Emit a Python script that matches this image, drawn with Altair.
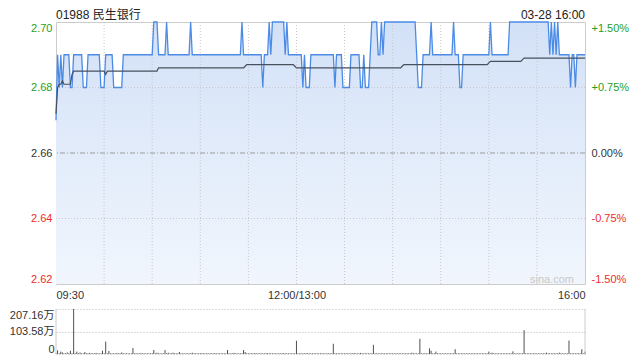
import altair as alt
import pandas as pd

title_text = "01988 民生银行"
stamp_text = "03-28 16:00"
watermark = "sina.com"
prev_close = 2.66

# price: minute index (since 09:30, lunch removed) where a level starts, and that level
price_start = [0, 1, 2, 3, 4, 5, 9, 11, 17, 20,
               28, 31, 36, 42, 61, 64, 69, 70, 84, 85,
               116, 117, 129, 130, 133, 134, 135, 143, 144, 145,
               154, 155, 156, 159, 174, 175, 179, 184, 190, 192,
               193, 196, 197, 201, 203, 204, 205, 225, 226, 229,
               234, 235, 248, 249, 252, 254, 271, 272, 283, 308,
               309, 310, 311, 312, 313, 314, 321, 322, 324, 325]
price_level = [2.67, 2.69, 2.68, 2.69, 2.68, 2.69, 2.68, 2.69, 2.68, 2.69,
               2.68, 2.69, 2.68, 2.69, 2.70, 2.69, 2.70, 2.69, 2.70, 2.69,
               2.70, 2.69, 2.68, 2.69, 2.70, 2.69, 2.70, 2.69, 2.70, 2.69,
               2.68, 2.69, 2.68, 2.69, 2.68, 2.69, 2.68, 2.69, 2.68, 2.69,
               2.68, 2.69, 2.70, 2.69, 2.70, 2.69, 2.70, 2.69, 2.68, 2.69,
               2.70, 2.69, 2.70, 2.69, 2.68, 2.69, 2.70, 2.69, 2.70, 2.69,
               2.70, 2.69, 2.70, 2.69, 2.70, 2.69, 2.68, 2.69, 2.68, 2.69]

# average price line
avg_start = [0, 1, 2, 4, 5, 10, 11, 31, 32, 64,
             118, 119, 149, 150, 216, 217, 270, 271, 291, 292]
avg_level = [2.672, 2.680, 2.681, 2.682, 2.681, 2.684, 2.685, 2.684, 2.685, 2.686,
             2.6865, 2.687, 2.6865, 2.686, 2.6865, 2.687, 2.6875, 2.688, 2.6885, 2.689]

# volume (万) at minutes with readable bars; other minutes about vol_other
vol_minute = [1, 3, 4, 7, 9, 11, 13, 15, 18, 21,
              25, 29, 31, 33, 38, 41, 48, 53, 61, 63,
              68, 70, 73, 77, 85, 90, 99, 107, 111, 117,
              118, 124, 132, 142, 150, 157, 173, 186, 190, 198,
              222, 227, 233, 234, 237, 249, 270, 272, 285, 292,
              306, 314, 320, 328, 330]
vol_value = [17, 11, 7, 7, 15, 207.16, 11, 7, 9, 5,
             5, 15, 57, 14, 4, 7, 28, 4, 18, 6,
             18, 6, 6, 9, 6, 4, 4, 18, 5, 18,
             9, 4, 4, 4, 61, 4, 47, 4, 5, 42,
             6, 70, 26, 15, 11, 22, 11, 6, 12, 110,
             6, 6, 62, 22, 11]
vol_other = 3.0

x_ticks = [0, 150, 330]
x_labels = ["09:30", "12:00/13:00", "16:00"]
grid_minutes = [30, 60, 90, 120, 150, 180, 210, 240, 270, 300]
y_ticks = [2.62, 2.64, 2.66, 2.68, 2.70]
pct_labels = ["-1.50%", "-0.75%", "0.00%", "+0.75%", "+1.50%"]
vol_ticks = [0, 103.58, 207.16]
vol_labels = ["0", "103.58万", "207.16万"]

N = 331


def expand(starts, levels, n):
    out = []
    for i, (s, lv) in enumerate(zip(starts, levels)):
        e = starts[i + 1] if i + 1 < len(starts) else n
        out.extend([lv] * (e - s))
    return out


price = expand(price_start, price_level, N)
avg = expand(avg_start, avg_level, N)
vol_map = dict(zip(vol_minute, vol_value))
vol = [vol_map.get(m, vol_other) for m in range(N)]

df = pd.DataFrame({"minute": list(range(N)), "price": price, "avg": avg})
vdf = pd.DataFrame({"minute": list(range(N)), "vol": vol})

W, H, VH = 529, 262, 45
GREEN, RED, DARK = "#1f9f1f", "#ee2b2b", "#333333"
FONT = "Liberation Sans, Arial, 'Noto Sans CJK SC', sans-serif"


def map_expr(ticks, labels):
    expr = "''"
    for t, l in zip(ticks, labels):
        expr = f"(abs(datum.value - {t}) < 0.001 ? '{l}' : {expr})"
    return expr


color_expr = (f"datum.value > {prev_close + 0.001} ? '{GREEN}' : "
              f"datum.value < {prev_close - 0.001} ? '{RED}' : '{DARK}'")

xscale = alt.Scale(domain=[0, 330], nice=False, zero=False)
yscale = alt.Scale(domain=[2.62, 2.70], nice=False, zero=False)

x_axis = alt.Axis(values=x_ticks, labelExpr=map_expr(x_ticks, x_labels), grid=False,
                  ticks=False, domain=False, labelFlush=True, labelPadding=5,
                  title=None, labelColor=DARK)
y_left = alt.Axis(values=y_ticks, format=".2f", grid=False, ticks=False, domain=False,
                  labelFlush=True, labelPadding=4, minExtent=47, maxExtent=47,
                  title=None, labelColor={"expr": color_expr})
y_right = alt.Axis(values=y_ticks, orient="right", labelExpr=map_expr(y_ticks, pct_labels),
                   grid=False, ticks=False, domain=False, labelFlush=True, labelPadding=6,
                   title=None, labelColor={"expr": color_expr})

X = alt.X("minute:Q", scale=xscale, axis=x_axis)
Y = alt.Y("price:Q", scale=yscale, axis=y_left)

grad = alt.Gradient(gradient="linear",
                    stops=[alt.GradientStop(color="#d3e1f7", offset=0),
                           alt.GradientStop(color="#f1f6fd", offset=1)],
                    x1=0, x2=0, y1=0, y2=1)

area = alt.Chart(df).mark_area(color=grad).encode(x=X, y=Y, y2=alt.datum(2.62))
vgrid = alt.Chart(pd.DataFrame({"minute": grid_minutes})).mark_rule(
    color="#c8c8c8", strokeDash=[1, 2], strokeWidth=1).encode(x=X)
hgrid = alt.Chart(pd.DataFrame({"price": [2.68, 2.64]})).mark_rule(
    color="#c8c8c8", strokeDash=[1, 2], strokeWidth=1).encode(y=Y)
mid = alt.Chart(pd.DataFrame({"price": [prev_close]})).mark_rule(
    color="#9a9a9a", strokeDash=[5, 2, 1, 2], strokeWidth=1).encode(y=Y)
line = alt.Chart(df).mark_line(color="#4b8be6", strokeWidth=1.3).encode(x=X, y=Y)
avgl = alt.Chart(df).mark_line(color="#47515e", strokeWidth=1.2).encode(
    x=X, y=alt.Y("avg:Q", scale=yscale, axis=y_left))

title = alt.Chart(pd.DataFrame({"t": [title_text]})).mark_text(
    align="left", baseline="top", fontSize=12, font=FONT, color="#222222"
).encode(text="t:N", x=alt.value(0), y=alt.value(-12))
stamp = alt.Chart(pd.DataFrame({"t": [stamp_text]})).mark_text(
    align="right", baseline="top", fontSize=12, font=FONT, color="#222222"
).encode(text="t:N", x=alt.value(W), y=alt.value(-12))
wm = alt.Chart(pd.DataFrame({"t": [watermark]})).mark_text(
    align="right", baseline="alphabetic", fontSize=11, font=FONT, color="#c8c8c8"
).encode(text="t:N", x=alt.value(W - 11), y=alt.value(H - 1))

rlayer = alt.Chart(df).mark_line(opacity=0).encode(
    x=X, y=alt.Y("price:Q", scale=yscale, axis=y_right))

base = alt.layer(area, vgrid, hgrid, mid, line, avgl, title, stamp, wm)
price_chart = alt.layer(base, rlayer).resolve_scale(y="independent").properties(
    width=W, height=H)

VX = alt.X("minute:Q", scale=xscale, axis=None)
VY = alt.Y("vol:Q", scale=alt.Scale(domain=[0, 207.16], nice=False, zero=True),
           axis=alt.Axis(values=vol_ticks, labelExpr=map_expr(vol_ticks, vol_labels),
                         grid=True, gridDash=[1, 2], gridColor="#b8b8b8", ticks=False,
                         domain=False, labelFlush=True, labelPadding=2, minExtent=47,
                         maxExtent=47, title=None, labelColor=DARK))
bars = alt.Chart(vdf).mark_rule(color="#505050", strokeWidth=1).encode(
    x=VX, y=VY, y2=alt.datum(0))
lb = alt.Chart(pd.DataFrame({"t": [0]})).mark_rule(color="#cccccc").encode(
    x=alt.value(0), y=alt.value(0), y2=alt.value(VH))
rb = alt.Chart(pd.DataFrame({"t": [0]})).mark_rule(color="#cccccc").encode(
    x=alt.value(W), y=alt.value(0), y2=alt.value(VH))
vol_chart = alt.layer(bars, lb, rb).properties(
    width=W, height=VH, view=alt.ViewBackground(stroke="transparent"))

chart = alt.vconcat(price_chart, vol_chart, spacing=7).properties(
    padding=0
).configure_view(stroke="#cccccc").configure_axis(
    labelFont=FONT, labelFontSize=11
).configure_text(font=FONT)

chart.save("out.html", embed_options={"renderer": "svg", "actions": False})
